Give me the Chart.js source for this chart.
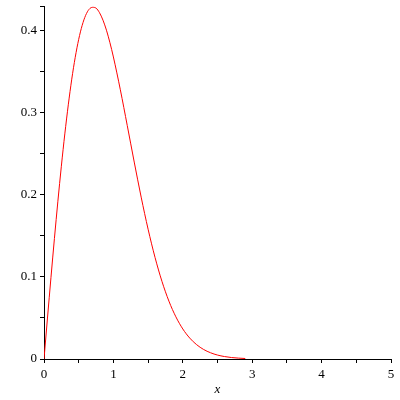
<!DOCTYPE html>
<html>
<head>
<meta charset="utf-8">
<script src="https://cdn.jsdelivr.net/npm/chart.js@4"></script>
<style>
  html, body { margin: 0; padding: 0; background: #fff; }
</style>
</head>
<body>
<canvas id="plot" width="400" height="400"></canvas>
<script>
// values
const xs = [0, 0.05, 0.1, 0.15, 0.2, 0.25, 0.3, 0.35, 0.4, 0.45, 0.5, 0.55, 0.6, 0.65, 0.7, 0.75,
  0.8, 0.85, 0.9, 0.95, 1.0, 1.1, 1.2, 1.3, 1.4, 1.5, 1.6, 1.7, 1.8, 1.9, 2.0, 2.1, 2.2, 2.3,
  2.4, 2.5, 2.6, 2.7, 2.8, 2.9];
const ys = [0, 0.0499, 0.0990, 0.1467, 0.1922, 0.2348, 0.2742, 0.3096, 0.3409, 0.3675, 0.3894,
  0.4064, 0.4186, 0.4260, 0.4284, 0.4274, 0.4218, 0.4127, 0.4005, 0.3853, 0.3679, 0.3280,
  0.2843, 0.2399, 0.1972, 0.1581, 0.1237, 0.0945, 0.0705, 0.0514, 0.0366, 0.0255, 0.0174,
  0.0116, 0.0076, 0.0048, 0.0030, 0.0018, 0.0011, 0.0006];
const xTickLabels = [0, 1, 2, 3, 4, 5];
const yTickLabels = [0, 0.1, 0.2, 0.3, 0.4];

const serif = '"Liberation Serif", "Times New Roman", serif';
const near = (v, list) => list.some(t => Math.abs(t - v) < 1e-6);

new Chart(document.getElementById('plot').getContext('2d'), {
  type: 'line',
  data: {
    datasets: [{
      data: xs.map((x, i) => ({ x: x, y: ys[i] })),
      borderColor: '#ff0000',
      borderWidth: 1,
      pointRadius: 0,
      fill: false,
      cubicInterpolationMode: 'monotone',
    }],
  },
  options: {
    responsive: false,
    animation: false,
    layout: { padding: { top: 6, right: 9 } },
    plugins: { legend: { display: false }, tooltip: { enabled: false } },
    scales: {
      x: {
        type: 'linear',
        min: 0,
        max: 5,
        border: { color: '#000', width: 1 },
        grid: { drawOnChartArea: false, tickLength: 4, color: '#000' },
        ticks: {
          stepSize: 0.5,
          autoSkip: false,
          maxRotation: 0,
          padding: 4,
          color: '#000',
          font: { family: serif, size: 13 },
          callback: v => near(v, xTickLabels) ? String(v) : '',
        },
        title: {
          display: true,
          text: 'x',
          color: '#000',
          padding: { top: 0, bottom: 3 },
          font: { family: serif, size: 13, style: 'italic' },
        },
        afterFit: s => { s.height = 41; },
      },
      y: {
        min: 0,
        max: 0.43,
        border: { color: '#000', width: 1 },
        grid: { drawOnChartArea: false, tickLength: 4, color: '#000' },
        ticks: {
          stepSize: 0.05,
          autoSkip: false,
          padding: 3,
          color: '#000',
          font: { family: serif, size: 13 },
          callback: v => near(v, yTickLabels) ? String(Math.round(v * 10) / 10) : '',
        },
        afterFit: s => { s.width = 44; s.paddingTop = 0; },
      },
    },
  },
});
</script>
</body>
</html>
